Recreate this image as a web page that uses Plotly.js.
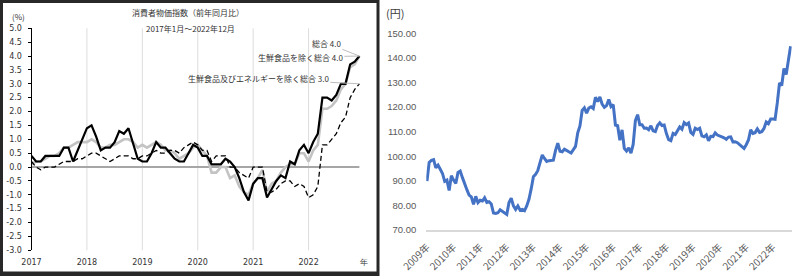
<!DOCTYPE html>
<html>
<head>
<meta charset="utf-8">
<script src="https://cdn.plot.ly/plotly-3.0.1.min.js"></script>
<style>html,body{margin:0;padding:0;background:#fff;}#chart{width:800px;height:276px;}</style>
</head>
<body>
<div id="chart"></div>
<script>
// ---- Left chart: CPI YoY (%), Jan 2017 - Dec 2022 ----
const cpiYearLabels = ["2017","2018","2019","2020","2021","2022","年"];
const cpiNames = ["総合","生鮮食品を除く総合","生鮮食品及びエネルギーを除く総合"];
const cpiAll = [
  0.4,0.2,0.2,0.4,0.4,0.4,0.4,0.7,0.7,0.2,0.6,1.0,
  1.4,1.5,1.1,0.6,0.7,0.7,0.9,1.3,1.2,1.4,0.8,0.3,
  0.2,0.2,0.5,0.9,0.7,0.7,0.5,0.3,0.2,0.2,0.5,0.8,
  0.7,0.4,0.4,0.1,0.1,0.1,0.3,0.2,0.0,-0.4,-0.9,-1.2,
  -0.6,-0.4,-0.4,-1.1,-0.8,-0.5,-0.3,-0.4,0.2,0.1,0.6,0.8,
  0.5,0.9,1.2,2.5,2.5,2.4,2.6,3.0,3.0,3.7,3.8,4.0];
const cpiCore = [
  0.1,0.2,0.2,0.3,0.4,0.4,0.5,0.7,0.7,0.8,0.9,0.9,
  0.9,1.0,0.9,0.7,0.7,0.8,0.8,0.9,1.0,1.0,0.9,0.7,
  0.8,0.7,0.8,0.9,0.8,0.6,0.6,0.5,0.3,0.4,0.5,0.7,
  0.8,0.6,0.4,-0.2,-0.2,0.0,0.0,-0.4,-0.3,-0.7,-0.9,-1.0,
  -0.6,-0.4,-0.1,-0.9,-0.6,-0.5,-0.2,0.0,0.1,0.1,0.5,0.5,
  0.2,0.6,0.8,2.1,2.1,2.2,2.4,2.8,3.0,3.6,3.7,4.0];
const cpiCoreCore = [
  0.2,0.0,-0.1,0.0,0.0,0.0,0.1,0.2,0.2,0.2,0.3,0.3,
  0.4,0.5,0.5,0.4,0.3,0.2,0.3,0.4,0.4,0.4,0.3,0.3,
  0.4,0.4,0.5,0.6,0.5,0.5,0.6,0.6,0.5,0.7,0.8,0.9,
  0.8,0.6,0.6,0.2,0.4,0.4,0.4,0.0,0.0,-0.2,-0.3,-0.4,
  0.0,0.0,0.0,-0.9,-0.9,-0.8,-0.6,-0.5,-0.5,-0.7,-0.6,-0.7,
  -1.1,-1.0,-0.7,0.8,0.8,1.0,1.2,1.6,1.8,2.5,2.8,3.0];
const cpiYTicks = [5.0,4.5,4.0,3.5,3.0,2.5,2.0,1.5,1.0,0.5,0.0,-0.5,-1.0,-1.5,-2.0,-2.5,-3.0];
const cpiYTickText = ["5.0","4.5","4.0","3.5","3.0","2.5","2.0","1.5","1.0","0.5","0.0","-0.5","-1.0","-1.5","-2.0","-2.5","-3.0"];

// ---- Right chart: USD/JPY (円), Jan 2009 - Sep 2022, month-end ----
const yenYearLabels = ["2009年","2010年","2011年","2012年","2013年","2014年","2015年","2016年","2017年","2018年","2019年","2020年","2021年","2022年"];
const yen = [
  89.9,97.5,98.3,98.6,95.3,96.4,94.7,93.0,89.8,90.3,86.1,92.1,
  90.3,88.9,93.4,94.0,91.3,88.4,86.4,84.2,83.5,80.4,83.7,81.1,
  82.1,81.8,83.1,81.2,81.5,80.6,76.9,76.7,77.0,78.2,77.6,76.9,
  76.3,81.2,82.9,79.8,78.4,79.8,78.1,78.4,77.9,79.8,82.5,86.7,
  91.7,92.6,94.2,97.4,100.5,99.1,97.9,98.2,98.3,98.4,102.4,105.3,
  102.0,101.8,102.9,102.5,101.8,101.3,102.8,104.0,109.5,112.3,118.6,119.7,
  117.5,119.6,120.1,119.4,124.0,122.2,124.1,121.2,119.9,120.6,123.1,120.2,
  121.0,112.7,112.4,106.5,110.7,103.2,102.1,103.4,101.3,104.8,114.5,116.9,
  112.8,112.8,111.4,111.5,110.8,112.4,110.3,110.0,112.5,113.6,112.5,112.7,
  109.2,106.7,106.3,109.3,108.8,110.7,111.9,111.0,113.7,112.9,113.5,109.7,
  108.9,111.4,110.9,111.4,108.3,107.9,108.7,106.3,108.1,108.0,109.5,108.6,
  108.4,107.9,107.5,106.9,107.8,107.9,105.8,105.9,105.5,104.7,104.3,103.2,
  104.7,106.6,110.7,109.3,109.6,111.1,109.7,110.0,111.3,113.9,113.2,115.1,
  115.1,115.0,121.7,129.8,128.7,135.7,133.2,138.7,144.7];
const yenYTicks = [70,80,90,100,110,120,130,140,150];

// ---- build ----
const W = 800, H = 276;
const px = v => v / W, py = v => (H - v) / H;
const idx = arr => arr.map((_, i) => i);
const cpiX = idx(cpiAll);
const cpiXTicks = cpiYearLabels.map((_, i) => i * 12);
const yenX = idx(yen);
const yenXTicks = yenYearLabels.map((_, i) => i * 12);

const jp = "Noto Sans CJK JP, Noto Sans, sans-serif";
const traces = [
  {x: cpiX, y: cpiCore, name: cpiNames[1], type: "scatter", mode: "lines", xaxis: "x", yaxis: "y",
   line: {color: "#c3c3c3", width: 2.6}},
  {x: cpiX, y: cpiCoreCore, name: cpiNames[2], type: "scatter", mode: "lines", xaxis: "x", yaxis: "y",
   line: {color: "#000", width: 1.3, dash: "5px,3px"}},
  {x: cpiX, y: cpiAll, name: cpiNames[0], type: "scatter", mode: "lines", xaxis: "x", yaxis: "y",
   line: {color: "#000", width: 2.2}},
  {x: yenX, y: yen, name: "円", type: "scatter", mode: "lines", xaxis: "x2", yaxis: "y2",
   line: {color: "#4472c4", width: 3}}
];

const last = a => a[a.length - 1];
const lastI = cpiAll.length - 1;
const shapes = [
  {type: "rect", xref: "paper", yref: "paper", x0: 0, x1: px(379.5), y0: 0, y1: 1,
   fillcolor: "#282828", line: {width: 0}, layer: "below"},
  {type: "rect", xref: "paper", yref: "paper", x0: px(3), x1: px(376.5), y0: py(271.5), y1: py(3),
   fillcolor: "#ffffff", line: {width: 0}, layer: "below"},
  {type: "line", xref: "x", yref: "y", x0: 0, x1: lastI, y0: 0, y1: 0,
   line: {color: "#a6a6a6", width: 2}, layer: "below"}
];
cpiXTicks.slice(1, -1).forEach(t => shapes.push({
  type: "line", xref: "x", yref: "y domain", x0: t, x1: t, y0: 0, y1: 1,
  line: {color: "#dcdcdc", width: 1}, layer: "below"}));

const lblFont = {family: jp, size: 8, color: "#333"};
const arrowBase = {showarrow: true, arrowhead: 0, arrowwidth: 1, arrowcolor: "#bdbdbd", standoff: 0, font: lblFont, xref: "x", yref: "y"};
const paperText = (x, y, text, font) => ({xref: "paper", yref: "paper", x: px(x), y: py(y), text: text,
  showarrow: false, xanchor: "center", yanchor: "middle", font: font});
const annotations = [
  paperText(187.5, 13, "消費者物価指数（前年同月比）", lblFont),
  paperText(190, 28, "2017年1月～2022年12月", lblFont),
  paperText(18, 16, "(%)", lblFont),
  Object.assign({x: lastI, y: last(cpiAll), text: cpiNames[0] + " " + last(cpiAll).toFixed(1), ax: -33, ay: -13}, arrowBase),
  Object.assign({x: lastI, y: last(cpiCore), text: cpiNames[1] + " " + last(cpiCore).toFixed(1), ax: -59, ay: 1}, arrowBase),
  Object.assign({x: lastI, y: last(cpiCoreCore), text: cpiNames[2] + " " + last(cpiCoreCore).toFixed(1), ax: -101, ay: -5}, arrowBase),
  paperText(395, 13, "(円)", {family: jp, size: 11, color: "#404040"})
];

const rFont = {family: "Liberation Sans, Noto Sans CJK JP, sans-serif", size: 9.5, color: "#595959"};
const layout = {
  width: W, height: H, margin: {l: 0, r: 0, t: 0, b: 0, pad: 0},
  paper_bgcolor: "#fff", plot_bgcolor: "rgba(0,0,0,0)", showlegend: false,
  xaxis: {domain: [px(31.5), px(364)], range: [0, 72], anchor: "y",
    tickvals: cpiXTicks, ticktext: cpiYearLabels, showgrid: false, zeroline: false, showline: false,
    ticks: "", ticklabelstandoff: 6, tickfont: {family: "DejaVu Sans", size: 8, color: "#333"}},
  yaxis: {domain: [py(250.3), py(28.3)], range: [-3, 5], anchor: "x",
    tickvals: cpiYTicks, ticktext: cpiYTickText, showgrid: false, zeroline: false,
    showline: true, linecolor: "#000", linewidth: 1, ticks: "outside", ticklen: 3, tickcolor: "#000",
    ticklabelstandoff: 4, tickfont: {family: "DejaVu Sans", size: 8, color: "#333"}},
  xaxis2: {domain: [px(426.3), px(791.7)], range: [-0.3, 164.5], anchor: "y2",
    tickvals: yenXTicks, ticktext: yenYearLabels, tickangle: -45, showgrid: false, zeroline: false,
    showline: true, linecolor: "#d9d9d9", linewidth: 1.5, ticks: "", ticklabelstandoff: 6,
    tickfont: {family: jp, size: 10, color: "#595959"}},
  yaxis2: {domain: [py(230), py(33.3)], range: [70, 150], anchor: "x2",
    tickvals: yenYTicks, tickformat: ".2f", showgrid: false, zeroline: false, showline: false,
    ticks: "", ticklabelstandoff: 9, tickfont: rFont},
  shapes: shapes,
  annotations: annotations
};

Plotly.newPlot("chart", traces, layout, {displayModeBar: false, staticPlot: true});
</script>
</body>
</html>
